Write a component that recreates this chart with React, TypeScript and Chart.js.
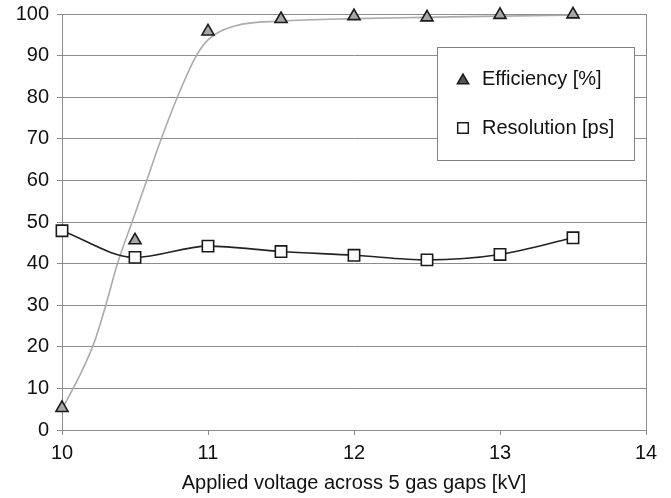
import React, { useEffect, useRef } from 'react';
import { Chart, registerables } from 'chart.js';

Chart.register(...registerables);

// ---- data ----
const voltages = [10, 10.5, 11, 11.5, 12, 12.5, 13, 13.5];
const efficiency = [5.3, 45.6, 95.8, 98.8, 99.5, 99.2, 99.8, 99.9];
const resolution = [47.9, 41.5, 44.2, 42.9, 42.0, 40.9, 42.2, 46.2];
// trend (fit) line drawn through the efficiency points
const fitVoltages = [10, 10.12, 10.22, 10.3, 10.38, 10.48, 10.58, 10.68, 10.79, 10.92, 11.0, 11.19, 11.5, 12, 12.5, 13, 13.5];
const fitEfficiency = [5, 13, 21, 30, 40, 50, 60, 70, 80, 90, 93.8, 97.2, 98.3, 98.9, 99.2, 99.5, 99.7];
const xTicks = [10, 11, 12, 13, 14];
const yTicks = [0, 10, 20, 30, 40, 50, 60, 70, 80, 90, 100];
const seriesLabels = ['Efficiency [%]', 'Resolution [ps]'];
const xTitle = 'Applied voltage across 5 gas gaps [kV]';

const FONT = '"Liberation Sans", Arial, Helvetica, sans-serif';
const GRID = '#8c8c8c';

function drawMarker(ctx: CanvasRenderingContext2D, style: string, x: number, y: number, r: number, fill: string, stroke: string, lw: number) {
  ctx.save();
  ctx.beginPath();
  if (style === 'triangle') {
    for (let i = 0; i < 3; i++) {
      const a = (i * 2 * Math.PI) / 3;
      const px = x + Math.sin(a) * r;
      const py = y - Math.cos(a) * r;
      if (i === 0) ctx.moveTo(px, py);
      else ctx.lineTo(px, py);
    }
    ctx.closePath();
  } else {
    const s = Math.SQRT1_2 * r;
    ctx.rect(x - s, y - s, 2 * s, 2 * s);
  }
  ctx.fillStyle = fill;
  ctx.fill();
  ctx.lineWidth = lw;
  ctx.strokeStyle = stroke;
  ctx.stroke();
  ctx.restore();
}

const framePlugin = {
  id: 'framePlugin',
  beforeDatasetsDraw(chart: any) {
    const { ctx, chartArea } = chart;
    ctx.save();
    ctx.strokeStyle = GRID;
    ctx.lineWidth = 1;
    const x = Math.round(chartArea.right) + 0.5;
    ctx.beginPath();
    ctx.moveTo(x, chartArea.top);
    ctx.lineTo(x, chartArea.bottom);
    ctx.stroke();
    ctx.restore();
  },
  afterDraw(chart: any) {
    const { ctx } = chart;
    ctx.save();
    const bx = 437.5, by = 47.5, bw = 197, bh = 113;
    ctx.fillStyle = '#ffffff';
    ctx.fillRect(bx, by, bw, bh);
    ctx.strokeStyle = '#808080';
    ctx.lineWidth = 1;
    ctx.strokeRect(bx, by, bw, bh);
    ctx.font = `20px ${FONT}`;
    ctx.fillStyle = '#111';
    ctx.textBaseline = 'middle';
    ctx.textAlign = 'left';
    const rows = [79, 128];
    drawMarker(ctx, 'triangle', 463, rows[0] + 1.5, 6.5, '#555', '#1a1a1a', 1.5);
    drawMarker(ctx, 'rect', 463, rows[1], 7.5, '#ffffff', '#1a1a1a', 1.5);
    ctx.fillText(chart.data.datasets[0].label, 482, rows[0]);
    ctx.fillText(chart.data.datasets[1].label, 482, rows[1]);
    ctx.restore();
  },
};

export default function App() {
  const ref = useRef<HTMLCanvasElement | null>(null);

  useEffect(() => {
    const canvas = ref.current;
    if (!canvas) return;
    const chart = new Chart(canvas, {
      type: 'line',
      data: {
        datasets: [
          {
            label: seriesLabels[0],
            data: voltages.map((v, i) => ({ x: v, y: efficiency[i] })),
            showLine: false,
            pointStyle: 'triangle',
            pointRadius: 7,
            pointBackgroundColor: '#a6a6a6',
            pointBorderColor: '#1a1a1a',
            pointBorderWidth: 1.6,
            clip: false as any,
            order: 0,
          },
          {
            label: seriesLabels[1],
            data: voltages.map((v, i) => ({ x: v, y: resolution[i] })),
            showLine: true,
            cubicInterpolationMode: 'monotone',
            borderColor: '#222222',
            borderWidth: 1.6,
            pointStyle: 'rect',
            pointRadius: 8,
            pointBackgroundColor: '#ffffff',
            pointBorderColor: '#1a1a1a',
            pointBorderWidth: 1.6,
            clip: false as any,
            order: 1,
          },
          {
            label: 'Efficiency fit',
            data: fitVoltages.map((v, i) => ({ x: v, y: fitEfficiency[i] })),
            showLine: true,
            cubicInterpolationMode: 'monotone',
            borderColor: '#ababab',
            borderWidth: 1.6,
            pointRadius: 0,
            clip: false as any,
            order: 2,
          },
        ],
      },
      options: {
        responsive: false,
        animation: false,
        devicePixelRatio: 1,
        layout: { padding: { top: 14, right: 25, left: 0, bottom: 0 } },
        plugins: {
          legend: { display: false },
          tooltip: { enabled: false },
          title: { display: false },
        },
        scales: {
          x: {
            type: 'linear',
            min: 10,
            max: 14,
            afterFit: (s: any) => {
              s.height = 68;
              s.paddingLeft = 0;
              s.paddingRight = 0;
            },
            afterBuildTicks: (s: any) => { s.ticks = xTicks.map((v) => ({ value: v })); },
            ticks: {
              color: '#111',
              font: { family: FONT, size: 20 },
              padding: 6,
              maxRotation: 0,
              callback: (v: any) => String(v),
            },
            grid: { drawOnChartArea: false, drawTicks: true, tickLength: 5, color: GRID, lineWidth: 1 },
            border: { display: true, color: GRID, width: 1 },
            title: {
              display: true,
              text: xTitle,
              color: '#111',
              font: { family: FONT, size: 20 },
              padding: { top: 0, bottom: 3 },
            },
          },
          y: {
            type: 'linear',
            min: 0,
            max: 100,
            afterFit: (s: any) => {
              s.width = 62;
              s.paddingTop = 0;
              s.paddingBottom = 0;
            },
            afterBuildTicks: (s: any) => { s.ticks = yTicks.map((v) => ({ value: v })); },
            ticks: {
              color: '#111',
              font: { family: FONT, size: 20 },
              padding: 8,
              callback: (v: any) => String(v),
            },
            grid: { color: GRID, lineWidth: 1, tickLength: 5 },
            border: { display: true, color: GRID, width: 1 },
          },
        },
      },
      plugins: [framePlugin],
    });
    return () => chart.destroy();
  }, []);

  return (
    <div style={{ position: 'fixed', left: 0, top: 0, width: 671, height: 498, background: '#fff' }}>
      <canvas ref={ref} width={671} height={498} style={{ width: 671, height: 498, display: 'block' }} />
    </div>
  );
}
